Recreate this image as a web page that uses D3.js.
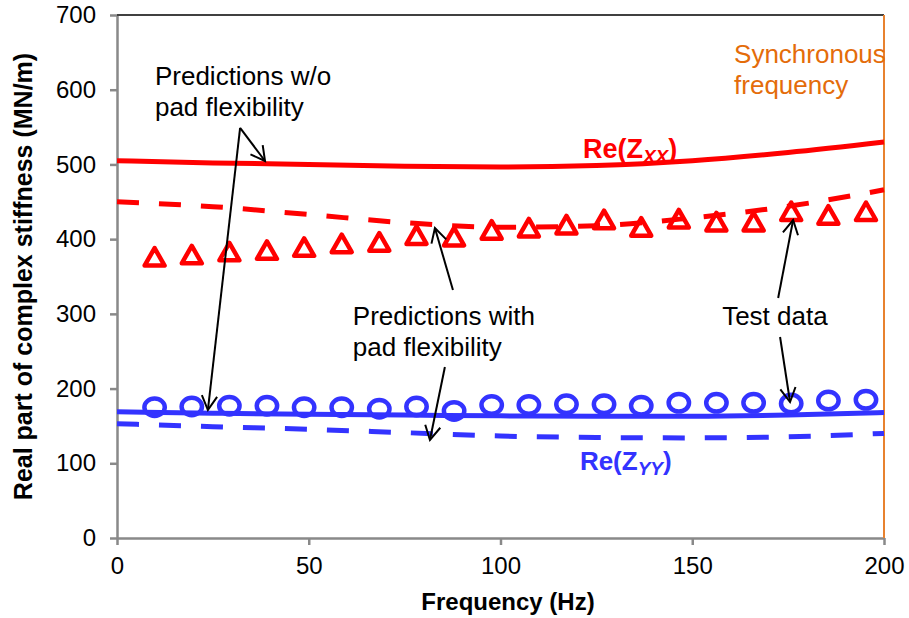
<!DOCTYPE html>
<html>
<head>
<meta charset="utf-8">
<script src="https://cdn.jsdelivr.net/npm/d3@7"></script>
<style>
  body { margin: 0; background: #fff; }
  svg { display: block; font-family: "Liberation Sans", Arial, sans-serif; }
</style>
</head>
<body>
<div id="chart"></div>
<script>
// prediction curves (Hz / MN/m)
const predFreq = [0, 25, 50, 75, 100, 125, 150, 175, 200];
const zxxNoFlex = [505, 502, 500, 497.5, 496.5, 498.5, 505, 516, 530];
const zxxFlex = [450, 443.5, 433, 422, 416, 418, 428.5, 444, 466];
const zyyNoFlex = [169, 167, 165.5, 164.5, 163.5, 163, 163, 164.5, 168];
const zyyFlex = [153, 149, 145.5, 141, 136.5, 134.5, 134, 135.5, 140];

// test data
const testFreq = [9.8, 19.5, 29.3, 39.1, 48.8, 58.6, 68.4, 78.1, 87.9, 97.7,
                  107.4, 117.2, 127.0, 136.7, 146.5, 156.3, 166.0, 175.8, 185.5, 195.3];
const zxxTest = [376, 379, 383, 385, 389, 394, 396, 405, 403, 412,
                 415, 419, 426, 416, 427, 423, 423, 437, 432, 437];
const zyyTest = [175, 176, 177, 177, 175, 175, 173, 176, 170, 178,
                 178, 179, 179, 177, 181, 181, 181, 180, 184, 185];

const xTicks = [0, 50, 100, 150, 200];
const yTicks = [0, 100, 200, 300, 400, 500, 600, 700];
const syncFreq = 200;

const width = 909, height = 618;
const margin = {top: 15, right: 25, bottom: 80, left: 117};
const red = "#ff0000", blue = "#3333ff", orange = "#e46c0a";

const svg = d3.select("#chart").append("svg")
    .attr("width", width)
    .attr("height", height);

const x = d3.scaleLinear().domain([0, 200]).range([margin.left, width - margin.right]);
const y = d3.scaleLinear().domain([0, 700]).range([height - margin.bottom, margin.top]);

// axes
const yAxis = svg.append("g")
    .attr("transform", `translate(${margin.left},0)`)
    .call(d3.axisLeft(y).tickValues(yTicks).tickSize(7).tickSizeOuter(0).tickPadding(14));
const xAxis = svg.append("g")
    .attr("transform", `translate(0,${height - margin.bottom})`)
    .call(d3.axisBottom(x).tickValues(xTicks).tickSize(7).tickSizeOuter(0).tickPadding(12));

[xAxis, yAxis].forEach(g => {
    g.selectAll(".domain, .tick line").attr("stroke", "#898989").attr("stroke-width", 2.5);
    g.selectAll("text").attr("font-size", 24).attr("fill", "#000")
        .attr("font-family", "Liberation Sans, Arial, sans-serif");
});

// top border
svg.append("line")
    .attr("x1", x(0)).attr("x2", x(200))
    .attr("y1", y(700)).attr("y2", y(700))
    .attr("stroke", "#404040").attr("stroke-width", 2);

// synchronous frequency line
svg.append("line")
    .attr("x1", x(syncFreq)).attr("x2", x(syncFreq))
    .attr("y1", y(700)).attr("y2", y(0))
    .attr("stroke", "#e8822f").attr("stroke-width", 2);

// axis titles
svg.append("text")
    .attr("x", 508).attr("y", 610)
    .attr("text-anchor", "middle")
    .attr("font-size", 24).attr("font-weight", "bold")
    .text("Frequency (Hz)");
svg.append("text")
    .attr("transform", `translate(32,${(y(0) + y(700)) / 2}) rotate(-90)`)
    .attr("text-anchor", "middle")
    .attr("font-size", 25).attr("font-weight", "bold")
    .text("Real part of complex stiffness (MN/m)");

// prediction lines
const line = d3.line()
    .x((d, i) => x(predFreq[i]))
    .y(d => y(d))
    .curve(d3.curveMonotoneX);

const curves = [
    {values: zxxNoFlex, color: red, dash: null},
    {values: zxxFlex, color: red, dash: "22,20"},
    {values: zyyNoFlex, color: blue, dash: null},
    {values: zyyFlex, color: blue, dash: "22,20"}
];
curves.forEach(c => {
    svg.append("path")
        .attr("d", line(c.values))
        .attr("fill", "none")
        .attr("stroke", c.color)
        .attr("stroke-width", 5)
        .attr("stroke-dasharray", c.dash);
});

// test markers
svg.selectAll(".tri")
    .data(zxxTest)
    .enter().append("path")
    .attr("class", "tri")
    .attr("transform", (d, i) => `translate(${x(testFreq[i])},${y(d)})`)
    .attr("d", "M0,-9L10,8.5L-10,8.5Z")
    .attr("fill", "none")
    .attr("stroke", red)
    .attr("stroke-width", 4.5)
    .attr("stroke-linejoin", "round");

svg.selectAll(".circ")
    .data(zyyTest)
    .enter().append("ellipse")
    .attr("class", "circ")
    .attr("cx", (d, i) => x(testFreq[i]))
    .attr("cy", d => y(d))
    .attr("rx", 10.2).attr("ry", 8.7)
    .attr("fill", "none")
    .attr("stroke", blue)
    .attr("stroke-width", 4.5);

// annotations: arrows [tailHz, tailVal, tipHz, tipVal]
const arrows = [
    [32.1, 548.8, 38.6, 504.6],
    [32.1, 548.8, 23.7, 171.3],
    [87.6, 331.9, 82.9, 414.9],
    [85.5, 228.9, 81.6, 131.2],
    [172.4, 321.2, 176.3, 425.6],
    [172.9, 269, 175.5, 182]
];
arrows.forEach(a => {
    const x1 = x(a[0]), y1 = y(a[1]), x2 = x(a[2]), y2 = y(a[3]);
    const ang = Math.atan2(y1 - y2, x1 - x2);
    const len = 16, spread = 0.5;
    const g = svg.append("g").attr("stroke", "#000").attr("stroke-width", 2).attr("fill", "none");
    g.append("line").attr("x1", x1).attr("y1", y1).attr("x2", x2).attr("y2", y2);
    g.append("path")
        .attr("d", `M${x2 + len * Math.cos(ang + spread)},${y2 + len * Math.sin(ang + spread)}` +
                   `L${x2},${y2}` +
                   `L${x2 + len * Math.cos(ang - spread)},${y2 + len * Math.sin(ang - spread)}`);
});

// text labels [hz, value, lines, color]
const labels = [
    [9.9, 606.3, ["Predictions w/o", "pad flexibility"], "#000"],
    [61.5, 285, ["Predictions with", "pad flexibility"], "#000"],
    [157.8, 285, ["Test data"], "#000"],
    [160.9, 635.8, ["Synchronous", "frequency"], orange]
];
labels.forEach(l => {
    const t = svg.append("text")
        .attr("x", x(l[0])).attr("y", y(l[1]))
        .attr("font-size", 26).attr("fill", l[3]);
    l[2].forEach((s, i) => {
        t.append("tspan").attr("x", x(l[0])).attr("dy", i === 0 ? 0 : 31).text(s);
    });
});

// Re(Z) labels
function reLabel(hz, val, sub, color, size) {
    const t = svg.append("text")
        .attr("x", x(hz)).attr("y", y(val))
        .attr("font-weight", "bold").attr("fill", color).attr("font-size", size);
    t.append("tspan").text("Re(Z");
    t.append("tspan").attr("font-size", 19).attr("font-style", "italic").attr("dy", 5).text(sub);
    t.append("tspan").attr("dy", -5).text(")");
}
reLabel(121.5, 508.6, "XX", red, 27);
reLabel(120.7, 91, "YY", blue, 26);
</script>
</body>
</html>
